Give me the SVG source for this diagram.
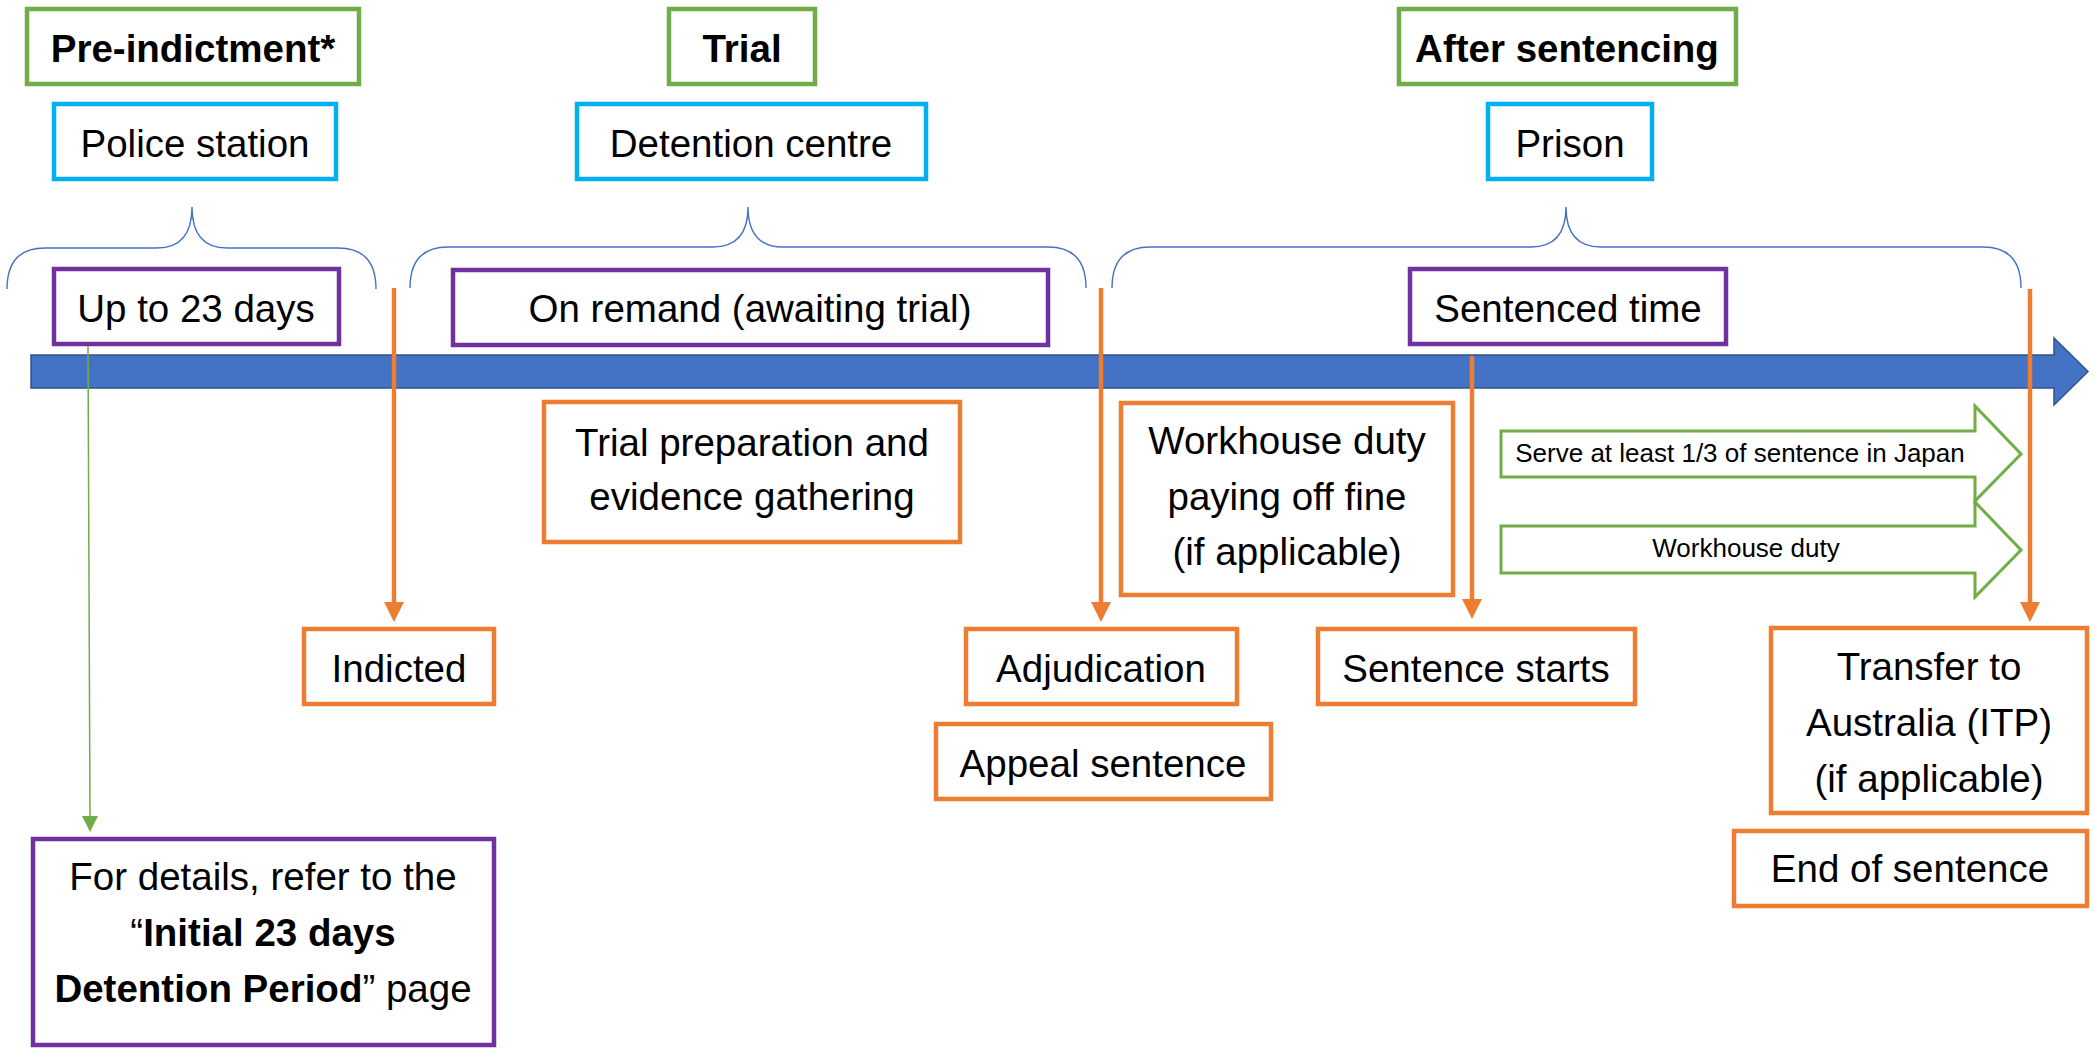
<svg xmlns="http://www.w3.org/2000/svg" width="2094" height="1049" viewBox="0 0 2094 1049">
<defs>
<style>
text{font-family:"Liberation Sans",Arial,sans-serif;font-size:38.5px;fill:#000;text-anchor:middle}
.b{font-weight:bold}
.sm{font-size:26px}
.box{fill:#fff;stroke-width:4.5}
.g{stroke:#70AD47}
.c{stroke:#00B0F0}
.p{stroke:#7030A0}
.o{stroke:#ED7D31}
.brace{fill:none;stroke:#4472C4;stroke-width:1.4}
.oline{stroke:#ED7D31;stroke-width:4.5;fill:none}
.blk{fill:#fff;stroke:#70AD47;stroke-width:3}
</style>
<marker id="oa" markerUnits="userSpaceOnUse" markerWidth="20" markerHeight="20" refX="2" refY="10" orient="auto"><path d="M0,0 L20,10 L0,20 z" fill="#ED7D31"/></marker>
<marker id="ga" markerUnits="userSpaceOnUse" markerWidth="16" markerHeight="16" refX="1" refY="8" orient="auto"><path d="M0,0 L16,8 L0,16 z" fill="#70AD47"/></marker>
</defs>
<rect width="2094" height="1049" fill="#fff"/>

<g id="timeline">
<polygon points="31,355 2054,355 2054,338 2088,371.5 2054,405 2054,388 31,388" fill="#4472C4" stroke="#2F528F" stroke-width="1.5"/>
</g>

<g id="braces">
<path class="brace" d="M7,289 Q7,248 45,248 L157,248 Q192,248 192,207 Q192,248 227,248 L338,248 Q376,248 376,289"/>
<path class="brace" d="M410,288 Q410,247 448,247 L713,247 Q748,247 748,207 Q748,247 783,247 L1048,247 Q1086,247 1086,288"/>
<path class="brace" d="M1112,288 Q1112,247 1150,247 L1531,247 Q1566,247 1566,207 Q1566,247 1601,247 L1983,247 Q2021,247 2021,288"/>
</g>

<g id="connectors">
<line class="oline" x1="394" y1="288" x2="394" y2="604" marker-end="url(#oa)"/>
<line class="oline" x1="1101" y1="288" x2="1101" y2="604" marker-end="url(#oa)"/>
<line class="oline" x1="1472" y1="356" x2="1472" y2="601" marker-end="url(#oa)"/>
<line class="oline" x1="2030" y1="289" x2="2030" y2="604" marker-end="url(#oa)"/>
<line x1="88" y1="346" x2="90" y2="817" stroke="#70AD47" stroke-width="1.5" marker-end="url(#ga)"/>
</g>

<g id="pre-indictment"><rect class="box g" x="27" y="9" width="332" height="75"/><text class="b" x="193" y="62">Pre-indictment*</text></g>
<g id="trial"><rect class="box g" x="669" y="9" width="146" height="75"/><text class="b" x="742" y="62">Trial</text></g>
<g id="after-sentencing"><rect class="box g" x="1399" y="9" width="337" height="75"/><text class="b" x="1567" y="62">After sentencing</text></g>

<g id="police-station"><rect class="box c" x="54" y="104" width="282" height="75"/><text x="195" y="157">Police station</text></g>
<g id="detention-centre"><rect class="box c" x="577" y="104" width="349" height="75"/><text x="751" y="157">Detention centre</text></g>
<g id="prison"><rect class="box c" x="1488" y="104" width="164" height="75"/><text x="1570" y="157">Prison</text></g>

<g id="up-to-23"><rect class="box p" x="54" y="269" width="285" height="75"/><text x="196" y="322">Up to 23 days</text></g>
<g id="on-remand"><rect class="box p" x="453" y="270" width="595" height="75"/><text x="750" y="322">On remand (awaiting trial)</text></g>
<g id="sentenced-time"><rect class="box p" x="1410" y="269" width="316" height="75"/><text x="1568" y="322">Sentenced time</text></g>

<g id="trial-prep"><rect class="box o" x="544" y="402" width="416" height="140"/><text x="752" y="456">Trial preparation and</text><text x="752" y="510">evidence gathering</text></g>
<g id="workhouse"><rect class="box o" x="1121" y="403" width="332" height="192"/><text x="1287" y="454">Workhouse duty</text><text x="1287" y="510">paying off fine</text><text x="1287" y="565">(if applicable)</text></g>

<g id="serve-third"><polygon class="blk" points="1501,431 1975,431 1975,406 2021,454 1975,501 1975,477 1501,477"/><text class="sm" x="1740" y="462">Serve at least 1/3 of sentence in Japan</text></g>
<g id="workhouse-duty"><polygon class="blk" points="1501,526 1975,526 1975,502 2021,550 1975,597 1975,573 1501,573"/><text class="sm" x="1746" y="557">Workhouse duty</text></g>

<g id="indicted"><rect class="box o" x="304" y="629" width="190" height="75"/><text x="399" y="682">Indicted</text></g>
<g id="adjudication"><rect class="box o" x="966" y="629" width="271" height="75"/><text x="1101" y="682">Adjudication</text></g>
<g id="appeal"><rect class="box o" x="936" y="724" width="335" height="75"/><text x="1103" y="777">Appeal sentence</text></g>
<g id="sentence-starts"><rect class="box o" x="1318" y="629" width="317" height="75"/><text x="1476" y="682">Sentence starts</text></g>
<g id="transfer"><rect class="box o" x="1771" y="628" width="316" height="185"/><text x="1929" y="680">Transfer to</text><text x="1929" y="736">Australia (ITP)</text><text x="1929" y="792">(if applicable)</text></g>
<g id="end-of-sentence"><rect class="box o" x="1734" y="831" width="353" height="75"/><text x="1910" y="882">End of sentence</text></g>

<g id="details"><rect class="box p" x="33" y="839" width="461" height="206"/>
<text x="263" y="890">For details, refer to the</text>
<text x="263" y="946">“<tspan class="b">Initial 23 days</tspan></text>
<text x="263" y="1002"><tspan class="b">Detention Period</tspan>” page</text>
</g>
</svg>
